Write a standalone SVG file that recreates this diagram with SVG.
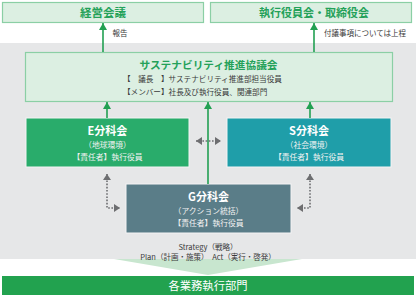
<svg xmlns="http://www.w3.org/2000/svg" width="416" height="295" viewBox="0 0 416 295">
<style>
text{font-family:"Noto Sans CJK JP","Noto Sans",sans-serif;text-anchor:middle}
.top{fill:#dcefe2;stroke:#8bcfa5;stroke-width:1.2}
.ttl{fill:#24a159;font-weight:bold}
.sub{fill:#3a3a3a;font-size:7.6px;text-anchor:start}
.lbl{fill:#3a3a3a;font-size:7.5px}
.w{fill:#fff}
.wb{fill:#fff;font-weight:bold;font-size:11px}
.ws{fill:#f2f2f2;font-size:7.8px}
.g{stroke:#22a052;stroke-width:1.6;fill:none}
.d{stroke:#6d6e70;stroke-width:1.6;stroke-dasharray:1.6 1.6;fill:none}
.box{stroke:#f4f4f4;stroke-width:1}
</style>
<defs>
<marker id="ga" markerUnits="userSpaceOnUse" markerWidth="8" markerHeight="8" viewBox="0 0 8 8" refX="7" refY="4" orient="auto"><path d="M0,0 L7,4 L0,8 Z" fill="#22a052"/></marker>
<marker id="da" markerUnits="userSpaceOnUse" markerWidth="8" markerHeight="8" viewBox="0 0 8 8" refX="6" refY="4" orient="auto"><path d="M0,0 L6,4 L0,8 Z" fill="#6d6e70"/></marker>
<marker id="ds" markerUnits="userSpaceOnUse" markerWidth="8" markerHeight="8" viewBox="0 0 8 8" refX="0" refY="4" orient="auto"><path d="M6,0 L0,4 L6,8 Z" fill="#6d6e70"/></marker>
</defs>
<rect x="0" y="43" width="416" height="216" fill="#e6e7e8"/>
<polygon points="114,259 302,259 208,275" fill="#c8e6cf"/>
<g id="keiei">
<rect class="top" x="2.5" y="2.5" width="201" height="20"/>
<text class="ttl" x="103" y="16.5" font-size="11.5">経営会議</text>
</g>
<g id="shikko">
<rect class="top" x="210.5" y="2.5" width="201" height="20"/>
<text class="ttl" x="314" y="16.5" font-size="11">執行役員会・取締役会</text>
</g>
<g id="kyogikai">
<rect class="top" x="25.5" y="52.5" width="367" height="49"/>
<text class="ttl" x="208.5" y="69" font-size="10.7">サステナビリティ推進協議会</text>
<text class="sub" x="123" y="82">【　議長　】サステナビリティ推進部担当役員</text>
<text class="sub" x="123" y="95">【メンバー】社長及び執行役員、関連部門</text>
</g>
<g id="e-bunkakai">
<rect class="box" x="26" y="118" width="163" height="49" fill="#29ac6b"/>
<text class="wb" x="107.5" y="135">E分科会</text>
<text class="ws" x="107.5" y="148">（地球環境）</text>
<text class="ws" x="107.5" y="160">【責任者】執行役員</text>
</g>
<g id="s-bunkakai">
<rect class="box" x="227" y="118" width="164" height="49" fill="#1f9ea9"/>
<text class="wb" x="309" y="135">S分科会</text>
<text class="ws" x="309" y="148">（社会環境）</text>
<text class="ws" x="309" y="160">【責任者】執行役員</text>
</g>
<g id="g-bunkakai">
<rect class="box" x="126" y="184" width="165" height="49" fill="#5a7d88"/>
<text class="wb" x="208.5" y="201">G分科会</text>
<text class="ws" x="208.5" y="214">（アクション統括）</text>
<text class="ws" x="208.5" y="226">【責任者】執行役員</text>
</g>
<g id="gyomu">
<rect x="2" y="276" width="412" height="19" fill="#22a24f"/>
<text class="w" x="208" y="289.5" font-size="11.3">各業務執行部門</text>
</g>
<g id="connectors">
<line class="g" x1="103" y1="52" x2="103" y2="23" marker-end="url(#ga)"/>
<line class="g" x1="314" y1="52" x2="314" y2="23" marker-end="url(#ga)"/>
<line class="g" x1="107" y1="118" x2="107" y2="102" marker-end="url(#ga)"/>
<line class="g" x1="208" y1="184" x2="208" y2="102" marker-end="url(#ga)"/>
<line class="g" x1="310" y1="118" x2="310" y2="102" marker-end="url(#ga)"/>
<line class="d" x1="196" y1="141" x2="221" y2="141" marker-start="url(#ds)" marker-end="url(#da)"/>
<polyline class="d" points="107,174 107,208 120,208" marker-start="url(#ds)" marker-end="url(#da)"/>
<polyline class="d" points="310,174 310,208 297,208" marker-start="url(#ds)" marker-end="url(#da)"/>
</g>
<g id="labels">
<text class="lbl" x="120" y="36">報告</text>
<text class="lbl" x="365" y="36">付議事項については上程</text>
<text class="lbl" x="208" y="250">Strategy（戦略）</text>
<text class="lbl" x="208" y="260">Plan（計画・施策）　Act（実行・啓発）</text>
</g>
</svg>
